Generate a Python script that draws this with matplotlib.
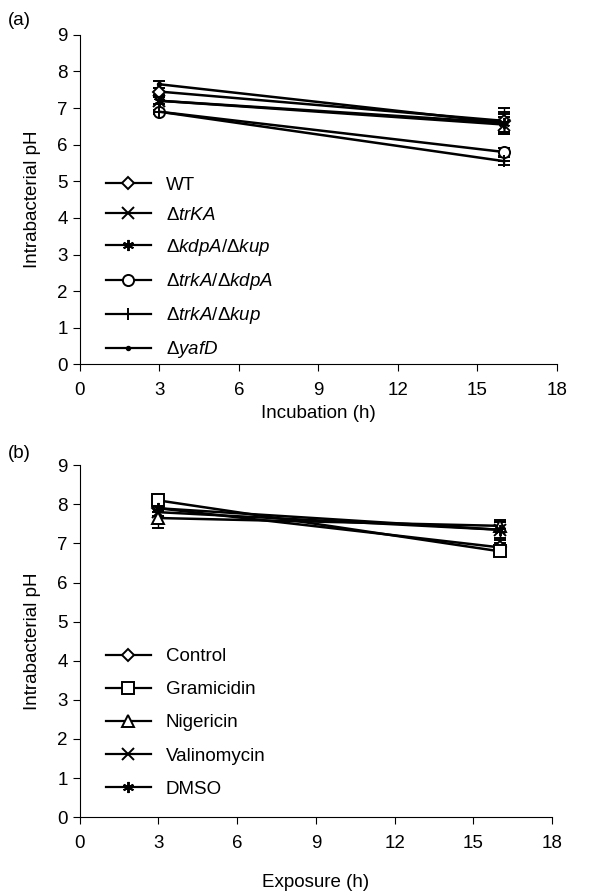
import numpy as np
import matplotlib.pyplot as plt
from matplotlib.lines import Line2D

plt.rcParams['font.family'] = ['Liberation Sans', 'DejaVu Sans']
plt.rcParams['mathtext.fontset'] = 'custom'
plt.rcParams['mathtext.rm'] = 'Liberation Sans'
plt.rcParams['mathtext.it'] = 'Liberation Sans:italic'

# dados
t = [3, 16]

labels_a = [r'WT', r'$\Delta\mathit{trKA}$', r'$\Delta\mathit{kdpA/}\Delta\mathit{kup}$',
            r'$\Delta\mathit{trkA/}\Delta\mathit{kdpA}$', r'$\Delta\mathit{trkA/}\Delta\mathit{kup}$',
            r'$\Delta\mathit{yafD}$']
ph_a = [[7.45, 6.65], [7.2, 6.55], [7.2, 6.6], [6.9, 5.8], [6.9, 5.55], [7.65, 6.6]]
err_a = [[0.1, 0.35], [0.1, 0.2], [0.1, 0.25], [0.05, 0.1], [0.05, 0.1], [0.1, 0.3]]
markers_a = ['D', 'x', (6, 2, 0), 'o', '+', '.']

labels_b = ['Control', 'Gramicidin', 'Nigericin', 'Valinomycin', 'DMSO']
ph_b = [[7.9, 6.9], [8.1, 6.8], [7.65, 7.45], [7.8, 7.35], [7.9, 7.35]]
err_b = [[0.1, 0.1], [0.1, 0.1], [0.25, 0.1], [0.1, 0.2], [0.1, 0.25]]
markers_b = ['D', 's', '^', 'x', (6, 2, 0)]

fig = plt.figure(figsize=(6.04, 8.93), dpi=100)
ax1 = fig.add_axes([0.132, 0.592, 0.79, 0.369])
ax2 = fig.add_axes([0.132, 0.085, 0.782, 0.394])


def estilo(m):
    ms = 8
    if m == 'D':
        ms = 6
    if m == '.':
        ms = 5
    fc = 'white' if m in ('D', 'o', 's', '^') else 'black'
    return dict(marker=m, ms=ms, mfc=fc, mec='black', mew=1.4)


def painel(ax, labels, ph, err, markers, xlabel, xpad, leg_top, spacing):
    handles = []
    for lab, y, e, m in zip(labels, ph, err, markers):
        st = estilo(m)
        ax.errorbar(t, y, yerr=e, color='black', lw=1.8, capsize=4,
                    elinewidth=1, capthick=1, **st)
        handles.append(Line2D([], [], color='black', lw=1.6, label=lab, **st))
    ax.set_xlim(0, 18)
    ax.set_ylim(0, 9)
    ax.set_xticks(np.arange(0, 19, 3))
    ax.set_yticks(np.arange(0, 10, 1))
    ax.spines['top'].set_visible(False)
    ax.spines['right'].set_visible(False)
    ax.tick_params(labelsize=13.5, direction='out', length=5)
    ax.tick_params(axis='x', pad=8)
    ax.set_ylabel('Intrabacterial pH', fontsize=13.5, labelpad=12)
    ax.set_xlabel(xlabel, fontsize=13.5, labelpad=xpad)
    ax.legend(handles=handles, loc='upper left', bbox_to_anchor=(0.055, leg_top),
              frameon=False, fontsize=13.5, handlelength=2.4, labelspacing=spacing,
              borderaxespad=0, borderpad=0, handletextpad=0.8)


painel(ax1, labels_a, ph_a, err_a, markers_a, 'Incubation (h)', 4, 0.57, 0.7)
painel(ax2, labels_b, ph_b, err_b, markers_b, 'Exposure (h)', 16, 0.48, 0.85)

fig.text(0.013, 0.972, '(a)', fontsize=13.5)
fig.text(0.013, 0.487, '(b)', fontsize=13.5)

plt.savefig('out.png', dpi=100)
